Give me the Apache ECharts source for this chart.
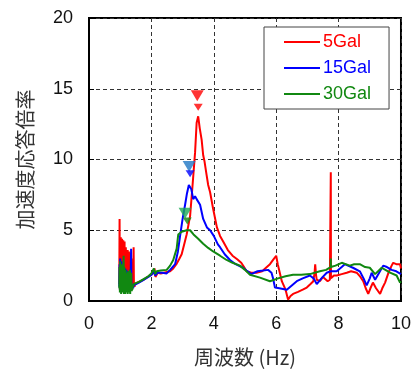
<!DOCTYPE html>
<html>
<head>
<meta charset="utf-8">
<script src="https://cdn.jsdelivr.net/npm/echarts@6/dist/echarts.min.js"></script>
<style>
  html, body { margin: 0; padding: 0; background: #fff; }
  #chart { width: 414px; height: 372px; }
</style>
</head>
<body>
<div id="chart"></div>
<script>
// Acceleration response ratio vs frequency for three input levels
const seriesNames = ['5Gal', '15Gal', '30Gal'];
const seriesColors = ['#ff0000', '#0000ff', '#118811'];

// Low-frequency band (0.97–1.50 Hz, 0.01 Hz steps) is dominated by noise
const freqLow = [0.97,0.98,0.99,1.00,1.01,1.02,1.03,1.04,1.05,1.06,1.07,1.08,1.09,1.10,1.11,1.12,1.13,1.14,1.15,1.16,1.17,1.18,1.19,1.20,1.21,1.22,1.23,1.24,1.25,1.26,1.27,1.28,1.29,1.30,1.31,1.32,1.33,1.34,1.35,1.36,1.37,1.38,1.39,1.40,1.41,1.42,1.43,1.44,1.45,1.46,1.47,1.48,1.49,1.50];
const amp5Low  = [1.2,5.8,0.8,4.3,1.0,4.5,0.9,4.2,1.1,4.4,0.8,4.0,1.2,4.3,0.9,3.9,1.0,4.2,0.7,3.6,1.1,3.8,0.8,3.5,1.0,3.4,0.9,3.6,0.7,3.3,1.0,3.5,0.8,3.4,0.9,3.3,1.0,3.2,0.8,3.0,1.1,1.4,0.9,1.2,1.0,1.3,3.8,1.0,1.2,1.0,1.2,1.1,1.3,1.25];
const amp15Low = [1.0,2.6,0.8,3.0,1.1,2.4,0.7,2.8,1.0,2.2,0.8,2.5,1.1,2.0,0.7,2.4,0.9,2.1,0.8,2.3,1.0,1.9,0.7,2.2,0.9,2.0,0.8,1.8,1.0,2.1,0.7,1.9,0.9,2.0,0.8,2.2,1.0,2.4,3.7,0.9,1.2,0.8,1.1,1.0,1.2,0.9,1.1,1.0,1.2,1.1,1.2,1.15,1.2,1.2];
const amp30Low = [0.9,2.4,0.6,2.8,0.8,2.3,0.5,2.6,0.7,2.2,0.6,2.0,0.8,2.1,3.2,0.5,2.4,0.7,2.1,0.5,2.2,0.8,1.9,0.6,2.0,0.7,1.8,0.5,2.1,0.8,1.7,0.6,1.9,0.7,2.2,0.5,1.8,0.8,2.0,0.9,0.7,1.1,0.8,1.0,0.9,1.1,1.0,1.2,1.1,1.2,1.2,1.25,1.2,1.25];

// Remaining band (above 1.5 Hz)
const freq5 = [1.55,1.65,1.75,1.85,1.95,2.05,2.10,2.13,2.20,2.30,2.40,2.50,2.60,2.70,2.80,2.90,2.97,3.05,3.13,3.24,3.32,3.40,3.45,3.50,3.55,3.61,3.66,3.70,3.77,3.82,3.88,3.98,4.10,4.20,4.30,4.45,4.60,4.75,4.88,4.97,5.05,5.20,5.37,5.55,5.70,5.80,5.90,6.00,6.05,6.18,6.30,6.38,6.46,6.54,6.70,6.85,6.98,7.10,7.19,7.23,7.25,7.28,7.30,7.40,7.50,7.56,7.65,7.72,7.745,7.75,7.755,7.85,7.94,8.10,8.26,8.40,8.58,8.70,8.79,8.87,8.95,9.02,9.10,9.20,9.33,9.40,9.49,9.60,9.70,9.75,9.85,9.97,10.00];
const amp5 = [1.3,1.4,1.5,1.65,1.8,1.95,2.3,1.7,2.0,1.95,2.0,2.05,2.1,2.3,2.6,3.0,3.3,4.0,4.7,6.0,8.2,10.5,12.6,13.05,12.2,11.4,10.3,9.9,8.9,8.2,7.7,6.5,5.2,4.6,4.2,3.6,3.2,2.95,2.7,2.4,2.1,2.0,2.0,2.1,2.4,2.6,2.9,3.2,2.6,1.4,0.8,0.1,0.35,0.5,0.65,0.8,0.95,1.2,1.4,2.0,2.6,1.8,1.5,1.4,1.7,1.6,1.4,1.5,1.6,9.1,1.6,1.8,1.8,1.9,2.0,2.1,2.0,1.7,1.4,0.9,0.5,0.9,1.3,0.9,0.5,0.9,1.3,2.0,2.5,2.7,2.6,2.6,2.3];

const freq15 = [1.60,1.75,1.90,2.00,2.08,2.12,2.20,2.35,2.49,2.60,2.76,2.85,2.92,3.00,3.08,3.14,3.20,3.24,3.28,3.34,3.40,3.45,3.56,3.66,3.78,3.88,4.00,4.13,4.20,4.35,4.52,4.70,4.94,5.05,5.20,5.40,5.58,5.74,5.85,5.90,5.96,6.10,6.34,6.50,6.66,6.85,7.08,7.20,7.30,7.45,7.62,7.75,7.94,8.10,8.20,8.30,8.46,8.68,8.80,8.90,9.00,9.06,9.17,9.30,9.43,9.55,9.70,9.85,10.00];
const amp15 = [1.3,1.5,1.7,1.85,2.1,1.8,2.0,2.0,1.95,2.2,2.6,3.5,4.6,5.8,6.8,7.6,8.2,8.3,7.9,7.2,7.4,7.2,6.8,5.8,5.2,5.0,4.6,4.0,3.8,3.3,2.9,2.6,2.35,2.15,1.9,2.1,2.15,2.2,2.0,1.6,0.95,0.9,0.8,1.1,1.4,1.6,1.8,1.6,1.2,1.6,2.0,2.1,2.1,2.4,2.6,2.5,2.35,2.1,1.6,1.1,1.6,2.0,1.5,2.0,2.5,2.4,2.2,2.1,1.9];

const freq30 = [1.60,1.75,1.90,2.00,2.08,2.12,2.17,2.30,2.49,2.60,2.70,2.81,2.86,2.97,3.13,3.24,3.35,3.50,3.66,3.82,3.98,4.20,4.41,4.60,4.84,5.00,5.16,5.48,5.80,6.06,6.30,6.54,6.80,7.08,7.40,7.60,7.745,7.75,7.755,7.90,8.10,8.36,8.50,8.68,8.85,9.00,9.17,9.38,9.50,9.65,9.86,9.97,10.00];
const amp30 = [1.35,1.55,1.75,1.95,2.3,1.9,2.1,2.15,2.2,2.5,2.9,3.7,4.7,4.9,5.0,5.0,4.7,4.4,4.05,3.75,3.5,3.2,2.9,2.7,2.5,2.2,1.85,1.65,1.4,1.6,1.75,1.85,1.85,1.9,2.1,2.2,2.4,3.0,2.4,2.5,2.7,2.5,2.6,2.6,2.4,2.35,1.9,2.35,2.2,2.0,1.8,1.3,1.4];

// Peak markers: [frequency, ratio] — outer (large) and inner (small) triangles
const peakOuter = [[3.47, 14.5], [3.21, 9.5], [3.08, 6.2]];
const peakInner = [[3.50, 13.7], [3.24, 9.0], [3.15, 5.65]];
const peakOuterColors = ['#ff0000', '#1f77c4', '#1aaa55'];

const xTicks = [0, 2, 4, 6, 8, 10];
const yTicks = [0, 5, 10, 15, 20];

const zip = (xs, ys) => xs.map((x, i) => [x, ys[i]]);
const curves = [
  zip(freqLow, amp5Low).concat(zip(freq5, amp5)),
  zip(freqLow, amp15Low).concat(zip(freq15, amp15)),
  zip(freqLow, amp30Low).concat(zip(freq30, amp30))
];

const latin = '"Liberation Sans", Arial, sans-serif';
const cjk = '"Noto Sans CJK JP", "Liberation Sans", sans-serif';

const series = [];
curves.forEach((data, i) => {
  series.push({
    name: seriesNames[i],
    type: 'line',
    data: data,
    showSymbol: false,
    symbol: 'none',
    lineStyle: { color: seriesColors[i], width: 2 },
    itemStyle: { color: seriesColors[i] },
    z: 3 + i,
    animation: false
  });
});
peakOuter.forEach((p, i) => {
  series.push({
    type: 'scatter',
    data: [p],
    symbol: 'triangle',
    symbolRotate: 180,
    symbolSize: [13, 11],
    itemStyle: { color: peakOuterColors[i] },
    z: 10,
    animation: false
  });
});
peakInner.forEach((p, i) => {
  series.push({
    type: 'scatter',
    data: [p],
    symbol: 'triangle',
    symbolRotate: 180,
    symbolSize: [9, 7],
    itemStyle: { color: seriesColors[i] },
    z: 11,
    animation: false
  });
});

const chart = echarts.init(document.getElementById('chart'), null, { renderer: 'canvas' });
chart.setOption({
  backgroundColor: '#fff',
  animation: false,
  grid: {
    left: 89, right: 13, top: 18, bottom: 69,
    show: true, borderColor: '#000', borderWidth: 2, backgroundColor: 'transparent'
  },
  legend: {
    orient: 'vertical',
    left: 264, top: 27,
    backgroundColor: '#fff',
    borderColor: '#444',
    borderWidth: 1,
    borderRadius: 0,
    padding: [6, 18, 6, 20],
    itemWidth: 36,
    itemHeight: 2,
    itemGap: 8,
    icon: 'rect',
    textStyle: { fontFamily: latin, fontSize: 18, padding: [0, 0, 0, -2] },
    data: seriesNames.map((n, i) => ({ name: n, textStyle: { color: seriesColors[i] } }))
  },
  xAxis: {
    type: 'value',
    min: xTicks[0], max: xTicks[xTicks.length - 1], interval: 2,
    name: '周波数 (Hz)',
    nameLocation: 'middle',
    nameGap: 46,
    nameTextStyle: { fontFamily: cjk, fontSize: 20, color: '#333' },
    axisLine: { show: true, onZero: false, lineStyle: { color: '#000', width: 2 } },
    axisTick: { show: true, inside: true, length: 5, lineStyle: { color: '#000' } },
    axisLabel: { fontFamily: latin, fontSize: 18, color: '#111', margin: 14 },
    splitLine: { show: true, lineStyle: { color: '#333', type: [4, 3], width: 1 } }
  },
  yAxis: {
    type: 'value',
    min: yTicks[0], max: yTicks[yTicks.length - 1], interval: 5,
    name: '加速度応答倍率',
    nameLocation: 'middle',
    nameGap: 54,
    nameTextStyle: { fontFamily: cjk, fontSize: 20, color: '#333' },
    axisLine: { show: true, lineStyle: { color: '#000', width: 2 } },
    axisTick: { show: true, inside: true, length: 5, lineStyle: { color: '#000' } },
    axisLabel: { fontFamily: latin, fontSize: 18, color: '#111', margin: 16 },
    splitLine: { show: true, lineStyle: { color: '#333', type: [4, 3], width: 1 } }
  },
  series: series
});
</script>
</body>
</html>
